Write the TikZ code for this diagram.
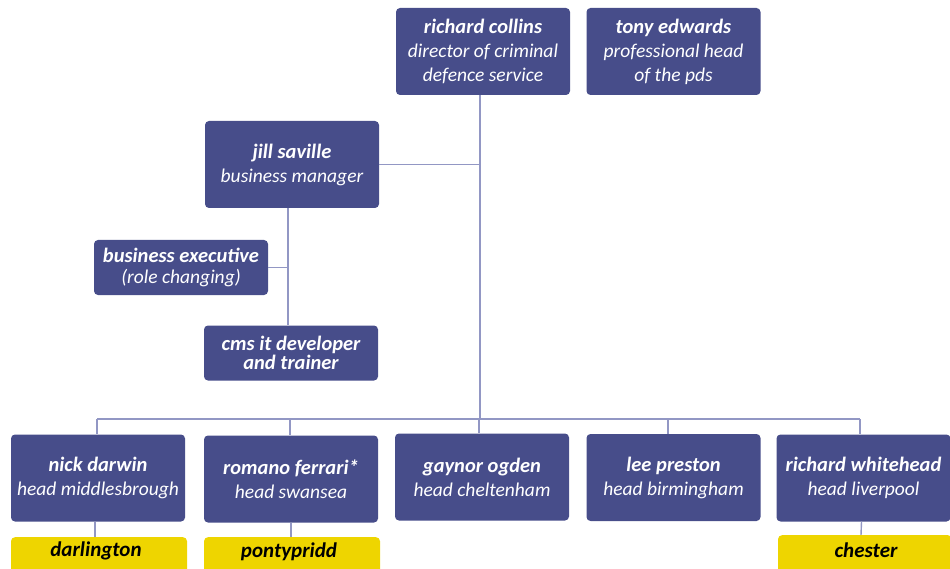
\documentclass[tikz,border=0pt]{standalone}
\usepackage{fontspec}
\usetikzlibrary{calc}
\setmainfont{Carlito}
\definecolor{boxblue}{HTML}{474D8A}
\definecolor{linecol}{HTML}{9297C4}
\definecolor{yel}{HTML}{EED500}
\tikzset{
  box/.style={fill=boxblue, rounded corners=4pt, text=white, align=center,
    minimum width=174pt, minimum height=87pt, inner sep=0pt,
    font=\fontsize{19.5}{24}\selectfont},
  smallbox/.style={box, minimum height=55pt, font=\fontsize{19.5}{21.5}\selectfont},
  ybox/.style={fill=yel, rounded corners=4pt, text=black, minimum width=176pt,
    minimum height=50pt, inner sep=0pt},
  ylabel/.style={font=\fontsize{21}{21}\selectfont\bfseries\itshape, text=black},
  conn/.style={draw=linecol, line width=1.4pt}
}
\newcommand{\titl}[1]{{\fontsize{20.5}{24}\selectfont\bfseries\itshape #1}}
\newcommand{\subl}[1]{{\itshape #1}}
\begin{document}
\begin{tikzpicture}[x=1pt,y=-1pt]
\useasboundingbox (0,0) rectangle (950,569);
\clip (0,0) rectangle (950,569);
% coordinates
\coordinate (busC) at (480,419);
\coordinate (jx) at (288,0);
\coordinate (b1) at (97,419);
\coordinate (b2) at (290,419);
\coordinate (b3) at (479,419);
\coordinate (b4) at (668,419);
\coordinate (b5) at (860,419);
% top
\node[box] (rc) at (483,51.5) {\titl{richard collins}\\\subl{director of criminal}\\\subl{defence service}};
\node[box] (te) at (673.5,51.5) {\titl{tony edwards}\\\subl{professional head}\\\subl{of the pds}};
\node[box] (js) at (292,164.5) {\titl{jill saville}\\\subl{business manager}};
\node[smallbox] (be) at (181,267.5) {\titl{business executive}\\\subl{(role changing)}};
\node[smallbox, font=\fontsize{20.5}{19.5}\selectfont\bfseries\itshape] (cms) at (291,353) {cms it developer\\and trainer};
% bottom row
\node[box] (nd) at (98,478) {\titl{nick darwin}\\\subl{head middlesbrough}};
\node[box] (rf) at (291,479) {\titl{romano ferrari*}\\\subl{head swansea}};
\node[box] (go) at (482,477) {\titl{gaynor ogden}\\\subl{head cheltenham}};
\node[box] (lp) at (673.5,477.5) {\titl{lee preston}\\\subl{head birmingham}};
\node[box] (rw) at (863.5,478) {\titl{richard whitehead}\\\subl{head liverpool}};
% yellow boxes
\node[ybox, anchor=north] (dl) at (99,537) {};
\node[ybox, anchor=north] (pp) at (292,537) {};
\node[ybox, anchor=north, minimum width=174pt] (ch) at (865,535) {};
\node[ylabel] (dlt) at (96,551) {darlington};
\node[ylabel] (ppt) at (289,552) {pontypridd};
\node[ylabel] (cht) at (866,550) {chester};
% connectors
\draw[conn] (busC |- rc.south) -- (busC);
\draw[conn] (js.east) -- (js.east -| busC);
\draw[conn] (jx |- js.south) -- (jx |- cms.north);
\draw[conn] (be.east) -- (be.east -| jx);
\draw[conn] (b1) -- (b5);
\draw[conn] (b1) -- (b1 |- nd.north);
\draw[conn] (b2) -- (b2 |- rf.north);
\draw[conn] (b3) -- (b3 |- go.north);
\draw[conn] (b4) -- (b4 |- lp.north);
\draw[conn] (b5) -- (b5 |- rw.north);
\draw[conn] ($(nd.south)+(-3,0)$) -- ($(dl.north)+(-4,0)$);
\draw[conn] (rf.south) -- ($(pp.north)+(-1,0)$);
\draw[conn] ($(rw.south)+(-2,0)$) -- ($(ch.north)+(-4,0)$);
\end{tikzpicture}
\end{document}
